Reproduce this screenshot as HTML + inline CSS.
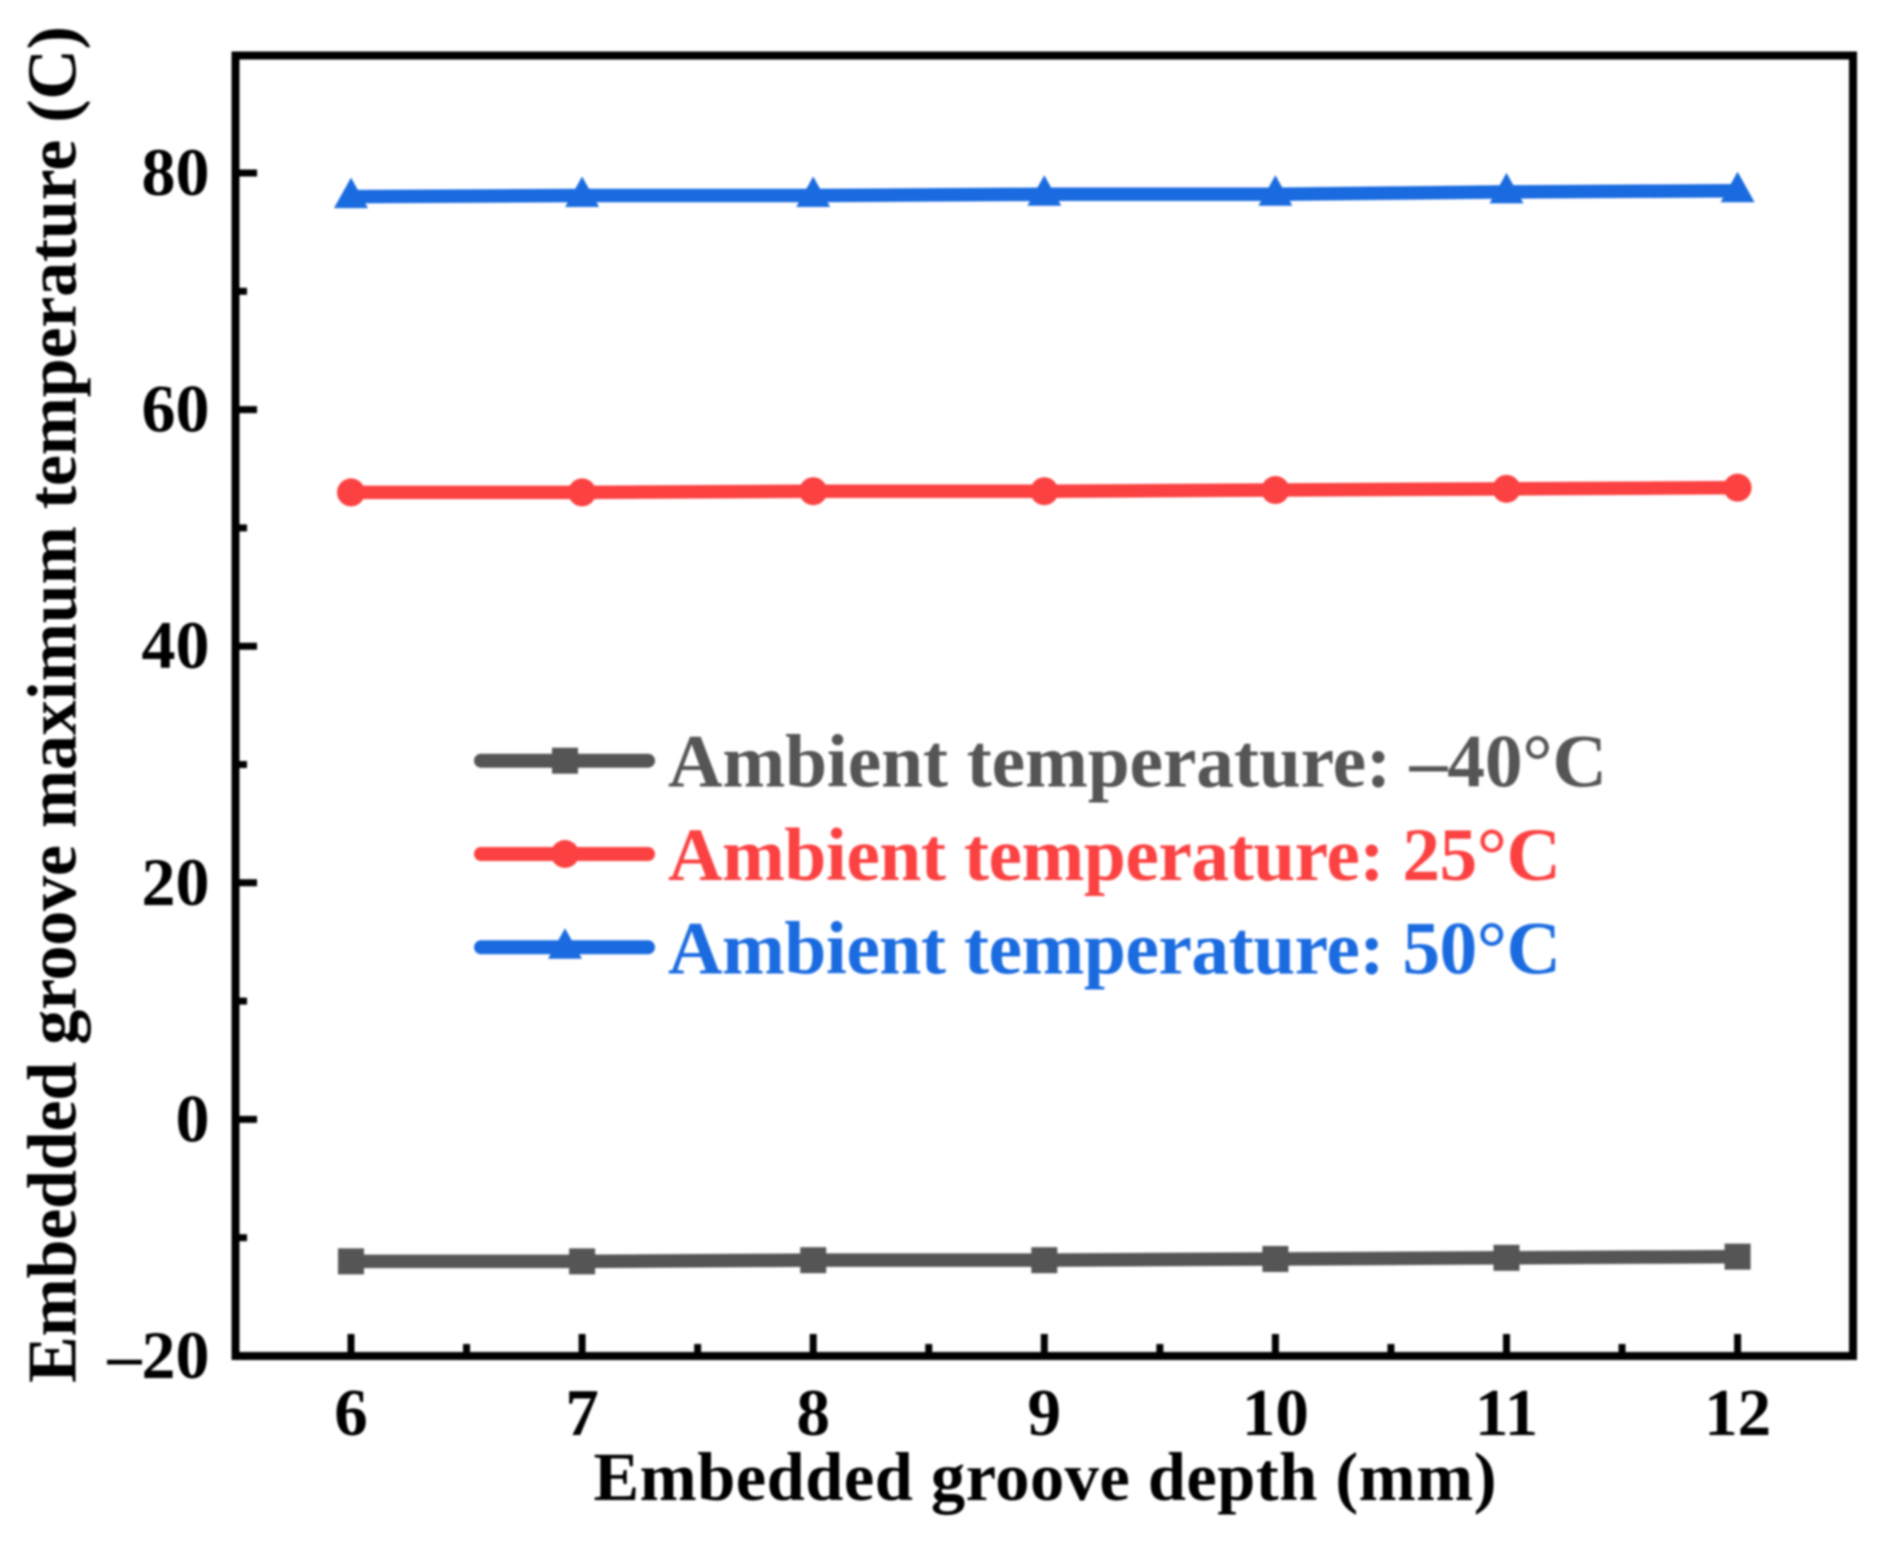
<!DOCTYPE html>
<html lang="en">
<head>
<meta charset="utf-8">
<title>Embedded groove maximum temperature chart</title>
<style>
html,body{margin:0;padding:0;background:#fff;width:1886px;height:1541px;overflow:hidden}
svg{display:block;filter:blur(1px)}
text{font-family:"Liberation Serif",serif;font-weight:bold}
</style>
</head>
<body>
<svg id="chart" width="1886" height="1541" viewBox="0 0 1886 1541" xmlns="http://www.w3.org/2000/svg">
<rect x="0" y="0" width="1886" height="1541" fill="#fff"/>
<g id="ticks"></g>
<g id="series"></g>
<rect x="235.5" y="55.5" width="1617.5" height="1300.5" fill="none" stroke="#000" stroke-width="8"/>
<text x="1045" y="1500" font-size="68.5" text-anchor="middle" textLength="903" lengthAdjust="spacing">Embedded groove depth (mm)</text>
<text transform="translate(75.5,704.5) rotate(-90)" x="0" y="0" font-size="70" text-anchor="middle" textLength="1357" lengthAdjust="spacing">Embedded groove maximum temperature (C)</text>
<g id="legend"></g>
</svg>
<script>
const depths = [6, 7, 8, 9, 10, 11, 12];
const xMinorTicks = [6.5, 7.5, 8.5, 9.5, 10.5, 11.5];
const yTicks = [-20, 0, 20, 40, 60, 80];
const yTickLabels = ['–20', '0', '20', '40', '60', '80'];
const yMinorTicks = [-10, 10, 30, 50, 70];
const coldValues = [-12.0, -12.0, -11.9, -11.9, -11.8, -11.7, -11.6];
const roomValues = [53.0, 53.0, 53.1, 53.1, 53.2, 53.3, 53.4];
const hotValues = [78.0, 78.1, 78.1, 78.2, 78.2, 78.4, 78.5];

const NS = 'http://www.w3.org/2000/svg';
const X0 = 351, XS = 231.1, Y0 = 1119.4, YS = 11.83;
function xScale(v) { return X0 + (v - 6) * XS; }
function yScale(v) { return Y0 - v * YS; }
function mk(parent, tag, attrs) {
  const el = document.createElementNS(NS, tag);
  for (const k in attrs) el.setAttribute(k, attrs[k]);
  parent.appendChild(el);
  return el;
}
function marker(parent, kind, cx, cy, color) {
  let el;
  if (kind === 'square') {
    el = mk(parent, 'rect', { x: cx - 13, y: cy - 13, width: 26, height: 26, fill: color });
  } else if (kind === 'circle') {
    el = mk(parent, 'circle', { cx: cx, cy: cy, r: 14, fill: color });
  } else {
    el = mk(parent, 'polygon', { points: (cx - 17) + ',' + (cy + 11.5) + ' ' + cx + ',' + (cy - 19) + ' ' + (cx + 17) + ',' + (cy + 11.5), fill: color });
  }
  return el;
}

const ticksG = document.getElementById('ticks');
depths.forEach(function (d) {
  const t = mk(ticksG, 'line', { x1: xScale(d), x2: xScale(d), y1: 1356, y2: 1334, stroke: '#000', 'stroke-width': 7 });
  
  
  const l = mk(ticksG, 'text', { x: xScale(d), y: 1435, 'font-size': 67, 'text-anchor': 'middle' });
  l.textContent = d;
  
  
});
xMinorTicks.forEach(function (d) {
  const t = mk(ticksG, 'line', { x1: xScale(d), x2: xScale(d), y1: 1356, y2: 1344, stroke: '#000', 'stroke-width': 7 });
  
  
});
yTicks.forEach(function (v, i) {
  const t = mk(ticksG, 'line', { x1: 235.5, x2: 257, y1: yScale(v), y2: yScale(v), stroke: '#000', 'stroke-width': 7 });
  
  
  const l = mk(ticksG, 'text', { x: 209.5, y: yScale(v) + 22, 'font-size': 68, 'text-anchor': 'end' });
  l.textContent = yTickLabels[i];
  
  
});
yMinorTicks.forEach(function (v) {
  const t = mk(ticksG, 'line', { x1: 235.5, x2: 247, y1: yScale(v), y2: yScale(v), stroke: '#000', 'stroke-width': 7 });
  
  
});

const seriesG = document.getElementById('series');
function drawSeries(values, color, kind, name) {
  const g = mk(seriesG, 'g', {});
  
  
  const pts = values.map(function (v, i) { return xScale(depths[i]) + ',' + yScale(v); }).join(' ');
  const line = mk(g, 'polyline', { points: pts, fill: 'none', stroke: color, 'stroke-width': 13.5 });
  
  
  values.forEach(function (v, i) {
    const m = marker(g, kind, xScale(depths[i]), yScale(v), color);
    
    
  });
}
drawSeries(coldValues, '#555555', 'square', 'series-minus-40c');
drawSeries(roomValues, '#FB4141', 'circle', 'series-25c');
drawSeries(hotValues, '#1A6BE0', 'triangle', 'series-50c');

const legendLabels = ['Ambient temperature: –40°C', 'Ambient temperature: 25°C', 'Ambient temperature: 50°C'];
const legendColors = ['#555555', '#FB4141', '#1A6BE0'];
const legendKinds = ['square', 'circle', 'triangle'];
const legendWidths = [939, 893, 893];
const legendG = document.getElementById('legend');
legendLabels.forEach(function (label, i) {
  const y = 760.7 + i * 93.3;
  const g = mk(legendG, 'g', {});
  
  
  const ln = mk(g, 'line', { x1: 481, x2: 648, y1: y, y2: y, stroke: legendColors[i], 'stroke-width': 14, 'stroke-linecap': 'round' });
  
  
  const m = marker(g, legendKinds[i], 565, y, legendColors[i]);
  
  
  const t = mk(g, 'text', { x: 668, y: y + 26, 'font-size': 75.5, fill: legendColors[i], textLength: legendWidths[i], lengthAdjust: 'spacing' });
  t.textContent = label;
  
  
});
</script>
</body>
</html>
